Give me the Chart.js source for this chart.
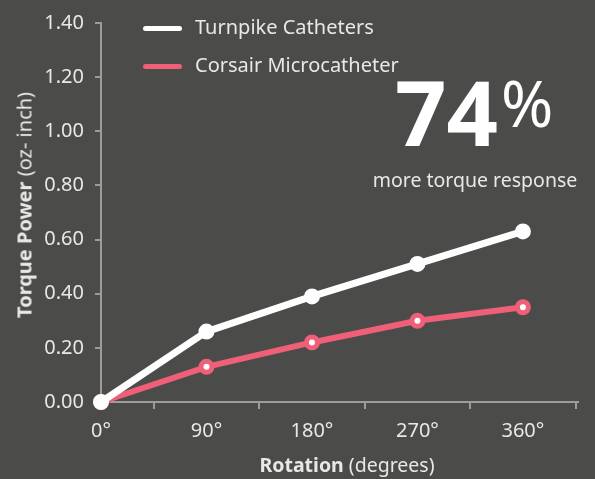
<!DOCTYPE html>
<html lang="en">
<head>
    <meta charset="UTF-8">
    <title>Torque Response</title>
    <style>
        body {
            margin: 0;
            background-color: #4b4b49;
            font-family: "Noto Sans", sans-serif;
        }
        .wrap {
            position: relative;
            width: 595px;
            height: 479px;
            overflow: hidden;
        }
        #chart {
            position: absolute;
            left: 0;
            top: 0;
        }
        .legend {
            position: absolute;
            left: 143px;
            top: 12px;
            color: #e8e8e8;
            font-size: 20px;
        }
        .legend div {
            height: 38px;
            line-height: 30px;
            white-space: nowrap;
        }
        .legend span.swatch {
            display: inline-block;
            width: 39px;
            height: 5px;
            border-radius: 3px;
            vertical-align: middle;
            margin-right: 13px;
        }
        .ytitle {
            position: absolute;
            left: 24px;
            top: 205px;
            transform: translate(-50%, -50%) rotate(-90deg);
            color: #e8e8e8;
            font-size: 20px;
            white-space: nowrap;
        }
        .xtitle {
            position: absolute;
            left: 347px;
            top: 464px;
            transform: translate(-50%, -50%);
            color: #e8e8e8;
            font-size: 19.5px;
            white-space: nowrap;
        }
        .big {
            position: absolute;
            left: 395px;
            top: 50px;
            color: #ffffff;
            white-space: nowrap;
        }
        .big .num {
            font-size: 90px;
            font-weight: bold;
        }
        .big .pct {
            font-size: 63px;
            vertical-align: top;
            position: relative;
            top: 10px;
            margin-left: 3px;
        }
        .note {
            position: absolute;
            left: 475px;
            top: 179px;
            transform: translate(-50%, -50%);
            color: #e8e8e8;
            font-size: 19.5px;
            white-space: nowrap;
        }
    </style>
</head>
<body>
    <div class="wrap">
        <canvas id="chart" width="595" height="479"></canvas>
        <div class="legend" id="legend"></div>
        <div class="ytitle"><b>Torque Power</b> (oz- inch)</div>
        <div class="xtitle"><b>Rotation</b> (degrees)</div>
        <div class="big"><span class="num">74</span><span class="pct">%</span></div>
        <div class="note">more torque response</div>
    </div>

    <script src="https://cdn.jsdelivr.net/npm/chart.js"></script>
    <script>
        // values
        const rotation = [0, 90, 180, 270, 360];
        const rotationLabels = ['0°', '90°', '180°', '270°', '360°'];
        const turnpike = [0, 0.26, 0.39, 0.51, 0.63];
        const corsair = [0, 0.13, 0.22, 0.30, 0.35];
        const yTicks = [0, 0.2, 0.4, 0.6, 0.8, 1.0, 1.2, 1.4];
        const seriesNames = ['Turnpike Catheters', 'Corsair Microcatheter'];
        const seriesColors = ['#ffffff', '#f05f78'];

        const axisColor = '#9c9c9a';
        const textColor = '#e8e8e8';

        // tick marks on the x axis sit half way between the labels
        const xMarks = rotation.map(r => r + 45);

        function toPoints(values) {
            return rotation.map((r, i) => ({ x: r, y: values[i] }));
        }

        // legend drawn as html so the two rows can stack
        const legend = document.getElementById('legend');
        seriesNames.forEach((name, i) => {
            const row = document.createElement('div');
            row.innerHTML = '<span class="swatch" style="background:' + seriesColors[i] + '"></span>' + name;
            legend.appendChild(row);
        });

        new Chart(document.getElementById('chart'), {
            type: 'line',
            data: {
                datasets: [{
                    label: seriesNames[0],
                    data: toPoints(turnpike),
                    borderColor: seriesColors[0],
                    backgroundColor: seriesColors[0],
                    borderWidth: 7,
                    pointRadius: 7,
                    pointBorderWidth: 2,
                    pointBackgroundColor: seriesColors[0],
                    pointBorderColor: seriesColors[0],
                    clip: false,
                    order: 0
                }, {
                    label: seriesNames[1],
                    data: toPoints(corsair),
                    borderColor: seriesColors[1],
                    backgroundColor: seriesColors[1],
                    borderWidth: 6,
                    pointRadius: 5.5,
                    pointBorderWidth: 5,
                    pointBackgroundColor: '#ffffff',
                    pointBorderColor: seriesColors[1],
                    clip: false,
                    order: 1
                }]
            },
            options: {
                responsive: false,
                animation: false,
                layout: { padding: { top: 16, right: 17, left: 0, bottom: 0 } },
                plugins: {
                    legend: { display: false },
                    tooltip: { enabled: false }
                },
                scales: {
                    x: {
                        type: 'linear',
                        min: 0,
                        max: 407,
                        afterFit: scale => { scale.height = 77; },
                        afterBuildTicks: scale => {
                            const all = rotation.concat(xMarks).sort((a, b) => a - b);
                            scale.ticks = all.map(v => ({ value: v }));
                        },
                        border: { color: axisColor, width: 2 },
                        grid: {
                            drawOnChartArea: false,
                            tickLength: 7,
                            lineWidth: 2,
                            color: ctx => (ctx.tick && rotation.includes(ctx.tick.value)) ? 'rgba(0,0,0,0)' : axisColor
                        },
                        ticks: {
                            autoSkip: false,
                            maxRotation: 0,
                            padding: 10,
                            color: textColor,
                            font: { family: 'Noto Sans', size: 20 },
                            callback: value => {
                                const i = rotation.indexOf(value);
                                return i >= 0 ? rotationLabels[i] : '';
                            }
                        }
                    },
                    y: {
                        min: 0,
                        max: 1.4,
                        afterFit: scale => { scale.width = 101; },
                        afterBuildTicks: scale => {
                            scale.ticks = yTicks.map(v => ({ value: v }));
                        },
                        border: { color: axisColor, width: 2 },
                        grid: {
                            drawOnChartArea: false,
                            tickLength: 6,
                            lineWidth: 2,
                            color: axisColor
                        },
                        ticks: {
                            padding: 11,
                            color: textColor,
                            font: { family: 'Noto Sans', size: 20 },
                            callback: value => value.toFixed(2)
                        }
                    }
                }
            }
        });
    </script>
</body>
</html>
